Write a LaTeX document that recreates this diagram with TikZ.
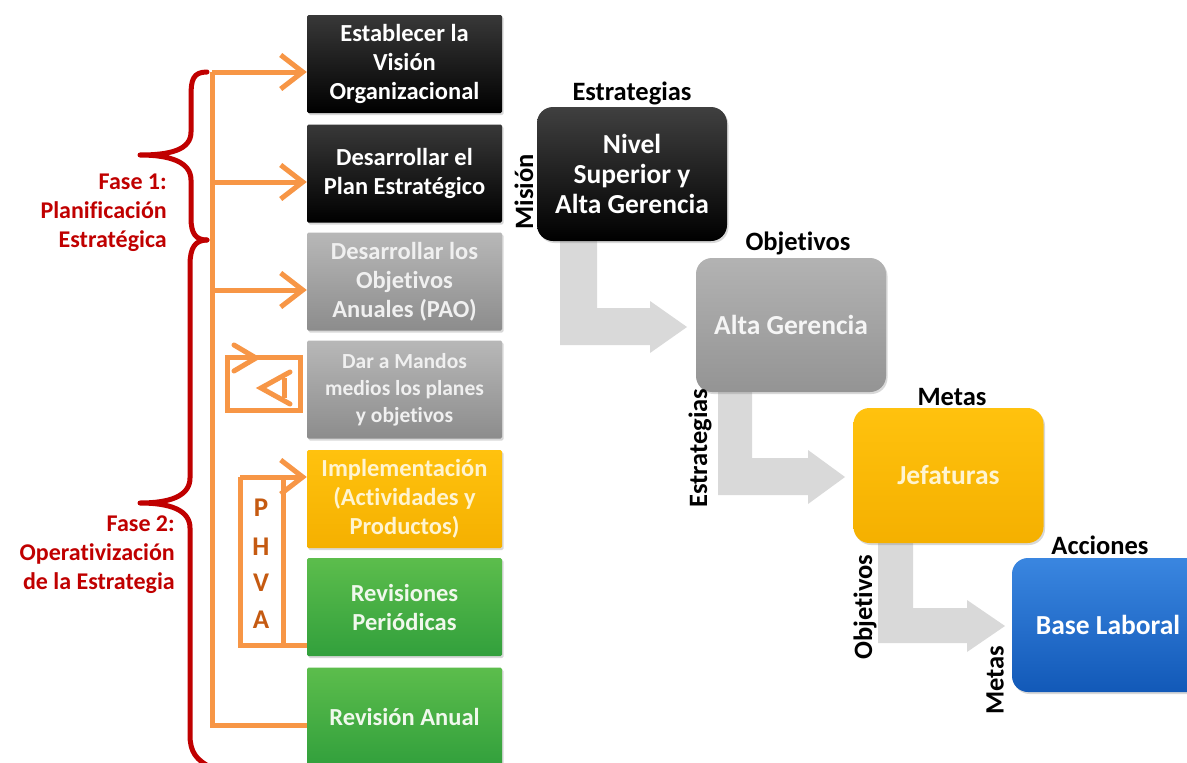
\documentclass[tikz,border=0pt]{standalone}
\usepackage{fontspec}
\setmainfont{Carlito}[Ligatures=NoCommon]
\usetikzlibrary{arrows.meta,shadows}
\definecolor{orng}{HTML}{F79646}
\definecolor{bred}{HTML}{C00000}
\definecolor{phva}{HTML}{C55A11}
\definecolor{garrow}{HTML}{D9D9D9}
\definecolor{ytop}{HTML}{FFC20E}
\definecolor{ybot}{HTML}{F5B000}
\definecolor{ytext}{HTML}{FFF4D0}
\definecolor{gtop}{HTML}{5CBD4C}
\definecolor{gbot}{HTML}{32A03C}
\definecolor{gtext}{HTML}{F0F8EC}
\definecolor{btop}{HTML}{3A86E0}
\definecolor{bbot}{HTML}{1259B8}
\begin{document}
\begin{tikzpicture}[x=1pt,y=-1pt,
  lbox/.style={minimum width=195pt, minimum height=98pt, rounded corners=1.5pt, align=center,
    font=\fontsize{24.5}{29}\selectfont\bfseries, inner sep=0pt,
    drop shadow={opacity=0.3,shadow xshift=1.5pt,shadow yshift=-2pt}},
  blackbox/.style={lbox, top color=black!78, bottom color=black, text=white},
  graybox/.style={lbox, top color=black!28, bottom color=black!45, text=black!6},
  yellowbox/.style={lbox, top color=ytop, bottom color=ybot, text=ytext},
  greenbox/.style={lbox, top color=gtop, bottom color=gbot, text=gtext},
  rbox/.style={minimum width=190pt, minimum height=134pt, rounded corners=16pt, align=center,
    font=\fontsize{27.5}{30}\selectfont\bfseries, inner sep=0pt,
    drop shadow={opacity=0.3,shadow xshift=1.5pt,shadow yshift=-2pt}},
  lab/.style={font=\fontsize{26.5}{28}\selectfont\bfseries, text=black, inner sep=0pt},
  fase/.style={font=\fontsize{24}{29}\selectfont\bfseries, text=bred, align=right, inner sep=0pt},
  oline/.style={draw=orng, line width=5pt},
  oarrow/.style={oline, -{Straight Barb[length=22pt,width=34pt]}},
  brace/.style={draw=bred, line width=5pt, line cap=round, line join=round},
  blockarrow/.style={fill=garrow},
  phvaletter/.style={font=\fontsize{27}{28}\selectfont\bfseries, text=phva, inner sep=0pt}
]
\useasboundingbox (0,0) rectangle (1187,763);
\clip (0,0) rectangle (1187,763);
\fill[white] (0,0) rectangle (1187,763);

% ---------- gray block arrows (behind boxes)
\fill[blockarrow] (560,236) -- (597,236) -- (597,308) -- (650,308) -- (650,301) -- (687,327) -- (650,353) -- (650,345) -- (560,345) -- cycle;
\fill[blockarrow] (718,390) -- (752,390) -- (752,458) -- (808,458) -- (808,450) -- (845,477) -- (808,504) -- (808,495) -- (718,495) -- cycle;
\fill[blockarrow] (878,540) -- (913,540) -- (913,608) -- (967,608) -- (967,600) -- (1005,626) -- (967,652) -- (967,643) -- (878,643) -- cycle;

% ---------- left column boxes
\node[blackbox]  (B1) at (404.5,64)  {Establecer la\\Visión\\Organizacional};
\node[blackbox]  (B2) at (404.5,173.5) {Desarrollar el\\Plan Estratégico};
\node[graybox]   (B3) at (404.5,281.5) {Desarrollar los\\Objetivos\\Anuales (PAO)};
\node[graybox, font=\fontsize{21.5}{27}\selectfont\bfseries]   (B4) at (404.5,389.5) {Dar a Mandos\\medios los planes\\y objetivos};
\node[yellowbox] (B5) at (404.5,499) {Implementación\\(Actividades y\\Productos)};
\node[greenbox]  (B6) at (404.5,607) {Revisiones\\Periódicas};
\node[greenbox]  (B7) at (404.5,716.5) {Revisión Anual};

% ---------- orange bus and arrows
\coordinate (busTop) at (212,72);
\coordinate (bus2) at (212,182);
\coordinate (bus3) at (212,290);
\coordinate (busBot) at (212,725);
\draw[oline] (busTop) -- (busBot) -- (busBot -| B7.west);
\draw[oarrow] (busTop) -- (busTop -| B1.west);
\draw[oarrow] (bus2) -- (bus2 -| B2.west);
\draw[oarrow] (bus3) -- (bus3 -| B3.west);

% Dar a Mandos loop symbol
\coordinate (m1) at (227,357);
\coordinate (m2) at (300,410);
\draw[oline] (m1) rectangle (m2);
\draw[oline, line cap=round] (234,345) -- (256,358) -- (234,371);
\draw[oline, line cap=round] (290,372) -- (261,388) -- (290,404);
\draw[oline] (284,378) -- (284,398);

% PHVA frame
\coordinate (p1) at (240,477);
\coordinate (p2) at (240,645);
\coordinate (p3) at (283,477);
\draw[oline] (p2 -| B6.west) -- (p2) -- (p1);
\draw[oarrow] (p1) -- (p1 -| B5.west);
\draw[oline] (p3) -- (p3 |- p2);
\node[phvaletter] (P) at (261,508) {P};
\node[phvaletter] (H) at (261,547) {H};
\node[phvaletter] (V) at (261,583) {V};
\node[phvaletter] (A) at (261,620) {A};

% ---------- red braces
\draw[brace] (207,72) .. controls (193,72) and (191,80) .. (191,96) -- (191,132)
  .. controls (191,150) and (170,155) .. (140,155)
  .. controls (170,155) and (191,162) .. (191,180) -- (191,218)
  .. controls (191,234) and (196,240) .. (207,240);
\draw[brace] (207,240) .. controls (195,240) and (190,248) .. (190,265) -- (190,478)
  .. controls (190,496) and (170,503) .. (140,503)
  .. controls (170,503) and (190,510) .. (190,528) -- (190,735)
  .. controls (190,752) and (196,760) .. (212,768);

\node[fase, anchor=east] (F1) at (167,213) {Fase 1:\\Planificación\\Estratégica};
\node[fase, anchor=east] (F2) at (175,555) {Fase 2:\\Operativización\\de la Estrategia};

% ---------- right hierarchy
\node[rbox, top color=black!75, bottom color=black, text=white] (N1) at (632,174) {Nivel\\Superior y\\Alta Gerencia};
\node[rbox, top color=black!30, bottom color=black!42, text=black!4] (N2) at (791,325) {Alta Gerencia};
\node[rbox, top color=ytop, bottom color=ybot, text=ytext, minimum height=135pt] (N3) at (948.5,475.5) {Jefaturas};
\node[rbox, top color=btop, bottom color=bbot, text=white, minimum width=192pt] (N4) at (1108,625) {Base Laboral};

\node[lab] (L1) at (632,93) {Estrategias};
\node[lab, rotate=90] (L2) at (524,192) {Misión};
\node[lab] (L3) at (798,243) {Objetivos};
\node[lab, rotate=90] (L4) at (700,448) {Estrategias};
\node[lab] (L5) at (952,397) {Metas};
\node[lab] (L6) at (1100,545) {Acciones};
\node[lab, rotate=90] (L7) at (865,607) {Objetivos};
\node[lab, rotate=90] (L8) at (995,680) {Metas};
\end{tikzpicture}
\end{document}
